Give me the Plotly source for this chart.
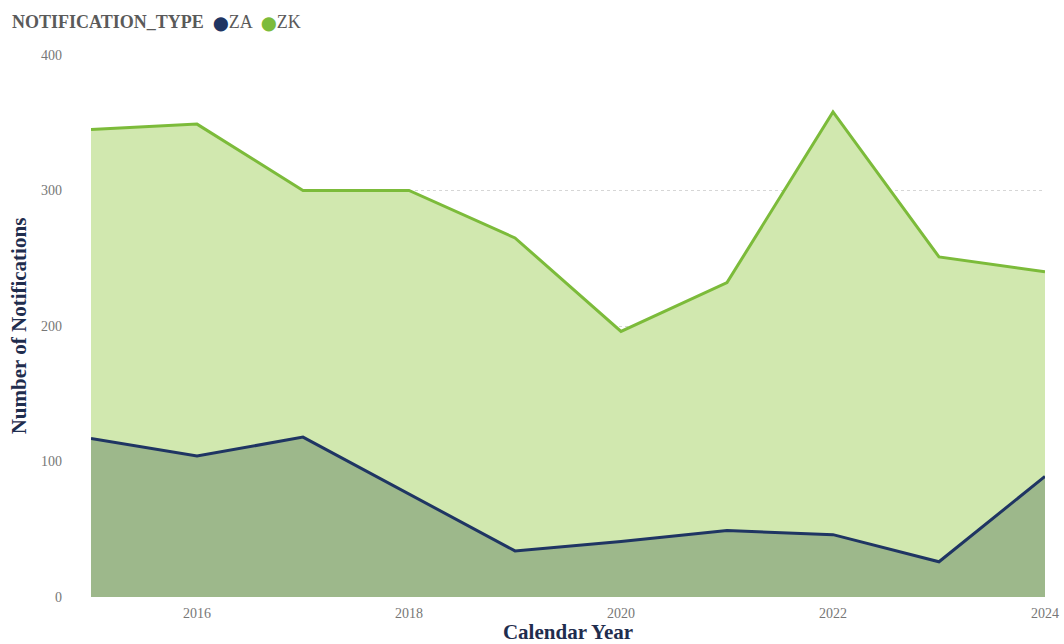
import plotly.graph_objects as go

# Annual notification counts by notification type
years = [2015, 2016, 2017, 2018, 2019, 2020, 2021, 2022, 2023, 2024]
za_counts = [117, 104, 118, 76, 34, 41, 49, 46, 26, 89]
zk_counts = [345, 349, 300, 300, 265, 196, 232, 358, 251, 240]
y_ticks = [0, 100, 200, 300, 400]
x_ticks = [2016, 2018, 2020, 2022, 2024]
legend_title = "NOTIFICATION_TYPE"

ZA_LINE = "#1f3563"
ZK_LINE = "#7cbb3a"
ZK_FILL = "#d1e8af"
ZA_FILL = "#9db88b"
SERIF = "Liberation Serif, Times New Roman, serif"

fig = go.Figure()

fig.add_trace(go.Scatter(
    x=years, y=zk_counts, mode="lines", name="ZK",
    line=dict(color=ZK_LINE, width=3), fill="tozeroy", fillcolor=ZK_FILL,
    showlegend=False, hoverinfo="x+y",
))
fig.add_trace(go.Scatter(
    x=years, y=za_counts, mode="lines", name="ZA",
    line=dict(color=ZA_LINE, width=3), fill="tozeroy", fillcolor=ZA_FILL,
    showlegend=False, hoverinfo="x+y",
))

# Compact legend row: title followed by coloured dots and series names
dot = "<span style='font-size:14px;color:{c}'>⬤</span>"
legend_text = (
    f"<b>{legend_title}</b>  "
    + dot.format(c=ZA_LINE) + "ZA  "
    + dot.format(c=ZK_LINE) + "ZK"
)
fig.add_annotation(
    text=legend_text, xref="paper", yref="paper",
    x=-0.085, xanchor="left", y=1.0, yshift=33, yanchor="middle",
    showarrow=False, font=dict(family=SERIF, size=18, color="#5a5a5a"),
)

fig.update_layout(
    width=1064, height=644,
    margin=dict(l=91, r=19, t=55, b=47),
    paper_bgcolor="white", plot_bgcolor="white",
    font=dict(family=SERIF, color="#666666"),
    showlegend=False,
    xaxis=dict(
        range=[2015, 2024], tickvals=x_ticks, ticktext=[str(t) for t in x_ticks],
        showgrid=False, zeroline=False, showline=False, automargin=False,
        tickfont=dict(size=14, color="#777777"), ticklabelstandoff=6,
        title=dict(text="<b>Calendar Year</b>", font=dict(size=21, color="#1f2d4e"), standoff=2),
    ),
    yaxis=dict(
        range=[0, 400], tickvals=y_ticks,
        showgrid=True, gridcolor="#d6d6d6", griddash="dot", gridwidth=1,
        zeroline=False, showline=False, automargin=False,
        tickfont=dict(size=14, color="#777777"), ticklabelstandoff=28,
        title=dict(text="<b>Number of Notifications</b>", font=dict(size=21, color="#1f2d4e"), standoff=8),
    ),
)

fig.write_html("out.html")
